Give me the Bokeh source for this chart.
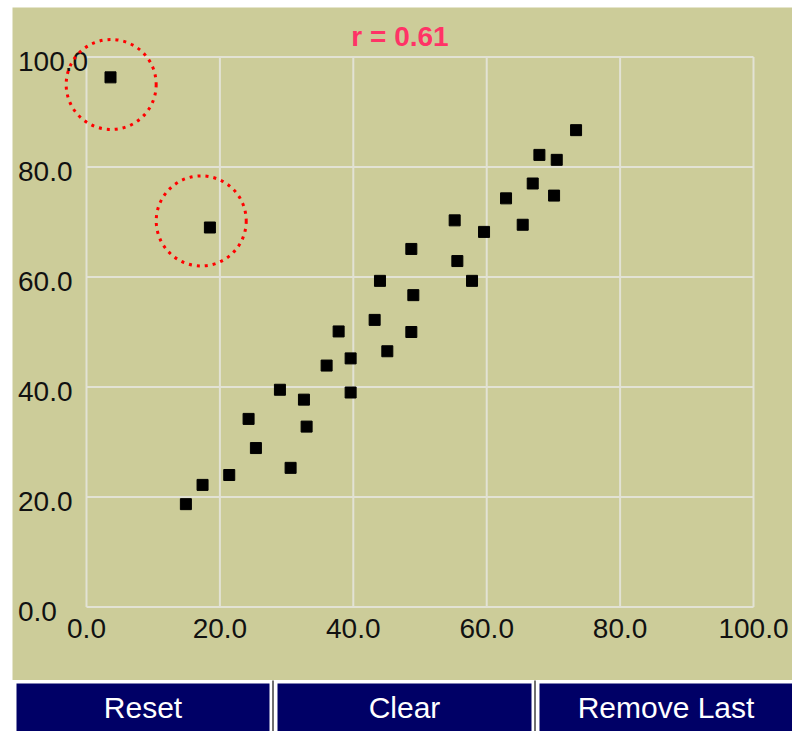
from bokeh.plotting import figure
from bokeh.core.properties import value
from bokeh.embed import file_html
from bokeh.resources import INLINE

# ---------------- data ----------------
x_vals = [3.6, 18.5, 14.9, 17.4, 21.4, 25.4, 24.3, 29.0, 32.6, 33.0, 30.6,
          36.0, 39.6, 39.6, 37.8, 43.2, 45.1, 48.7, 55.2, 59.6, 48.7, 55.6,
          44.0, 57.8, 49.0, 73.4, 67.9, 70.5, 66.9, 70.1, 62.9, 65.4]
y_vals = [96.3, 69.0, 18.7, 22.2, 24.0, 28.9, 34.2, 39.5, 37.7, 32.8, 25.3,
          43.9, 39.0, 45.2, 50.1, 52.2, 46.5, 50.0, 70.3, 68.2, 65.1, 62.9,
          59.3, 59.3, 56.7, 86.7, 82.2, 81.3, 77.0, 74.8, 74.3, 69.5]
x_ticks = [0, 20, 40, 60, 80, 100]
y_ticks = [0, 20, 40, 60, 80, 100]
x_tick_labels = ["0.0", "20.0", "40.0", "60.0", "80.0", "100.0"]
y_tick_labels = ["0.0", "20.0", "40.0", "60.0", "80.0", "100.0"]
circle_x = [3.7, 17.2]
circle_y = [95.0, 70.2]
title_text = "r = 0.61"
button_labels = ["Reset", "Clear", "Remove Last"]

# ---------------- layout (picture pixels, figure at top-left) ----------------
W, H = 792, 731
ORIGIN = 0
X0_PX, X100_PX = 86.0, 753.0
Y0_PX, Y100_PX = 606.5, 56.5


def dx(px):
    return (px - X0_PX) / (X100_PX - X0_PX) * 100.0


def dy(py):
    return (Y0_PX - py) / (Y0_PX - Y100_PX) * 100.0


KHAKI = "#CCCC99"
GRID = "#E2E2D4"
NAVY = "#000066"
FONT = "Liberation Sans"

p = figure(width=W, height=H,
           x_range=(dx(ORIGIN), dx(ORIGIN + W)),
           y_range=(dy(ORIGIN + H), dy(ORIGIN)),
           output_backend="svg", toolbar_location=None,
           x_axis_location=None, y_axis_location=None,
           min_border=0, outline_line_color=None,
           background_fill_color="white", border_fill_color="white")
p.grid.visible = False

# khaki panel
p.quad(left=[dx(12)], right=[dx(800)], top=[dy(7)], bottom=[dy(679.5)],
       fill_color=KHAKI, line_color=None)

# grid lines
p.segment(x0=x_ticks, y0=[y_ticks[0]] * len(x_ticks), x1=x_ticks,
          y1=[y_ticks[-1]] * len(x_ticks), line_color=GRID, line_width=2)
p.segment(x0=[x_ticks[0]] * len(y_ticks), y0=y_ticks,
          x1=[x_ticks[-1]] * len(y_ticks), y1=y_ticks,
          line_color=GRID, line_width=2)

# tick labels
p.text(x=[x_ticks[0]] * len(y_ticks), y=y_ticks, text=y_tick_labels,
       x_offset=17.5 - X0_PX, y_offset=4,
       text_align="left", text_baseline="middle",
       text_font=value(FONT), text_font_size="28px", text_color="#111111")
p.text(x=x_ticks, y=[y_ticks[0]] * len(x_ticks), text=x_tick_labels,
       y_offset=21.5, text_align="center", text_baseline="middle",
       text_font=value(FONT), text_font_size="28px", text_color="#111111")

# title
p.text(x=[dx(399.5)], y=[dy(35.5)], text=[title_text],
       text_align="center", text_baseline="middle",
       text_font=value(FONT), text_font_style="bold",
       text_font_size="28px", text_color="#FF3366")

# points
p.scatter(x_vals, y_vals, marker="square", size=11,
          fill_color="black", line_color="black", line_width=1)

# highlight circles
p.scatter(circle_x, circle_y, marker="circle", size=90,
          fill_color=None, line_color="#FF0000", line_width=3,
          line_dash="3 5")

# buttons
b_left = [16, 277, 539]
b_right = [269, 531, 800]
p.quad(left=[dx(v) for v in b_left], right=[dx(v) for v in b_right],
       top=[dy(683)] * 3, bottom=[dy(ORIGIN + H + 10)] * 3,
       fill_color=NAVY, line_color=None)
p.segment(x0=[dx(272.5), dx(534.5)], y0=[dy(680)] * 2,
          x1=[dx(272.5), dx(534.5)], y1=[dy(ORIGIN + H + 10)] * 2,
          line_color="#707070", line_width=2)
p.text(x=[dx((l + r) / 2) for l, r in zip(b_left, [269, 531, 792])],
       y=[dy(707)] * 3, text=button_labels,
       text_align="center", text_baseline="middle",
       text_font=value(FONT), text_font_size="30px", text_color="white")

open("out.html", "w").write(file_html(p, INLINE))
